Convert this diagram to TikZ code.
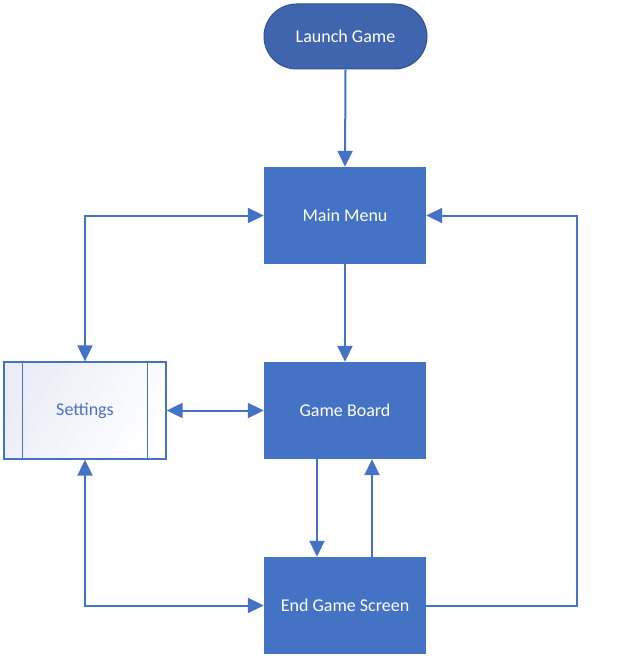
\documentclass[tikz,border=0pt]{standalone}
\usepackage{fontspec}
\setmainfont{Carlito}
\usetikzlibrary{arrows.meta,shapes.misc}
\definecolor{boxblue}{HTML}{4472C4}
\definecolor{darkblue}{HTML}{3F65AE}
\definecolor{edgeblue}{HTML}{2F528F}
\definecolor{lav}{HTML}{EAECF7}
\tikzset{
  procbox/.style={rectangle, fill=boxblue, minimum width=162pt, minimum height=97pt, inner sep=0pt, text=white, font=\fontsize{18}{21}\selectfont},
  startbox/.style={rounded rectangle, fill=darkblue, draw=edgeblue, line width=1pt, minimum width=163pt, minimum height=65pt, inner sep=0pt, text=white, font=\fontsize{18}{21}\selectfont},
  subbox/.style={rectangle, draw=boxblue, line width=1.3pt, left color=lav, right color=white, shading angle=60, minimum width=162pt, minimum height=97pt, inner sep=0pt, text=boxblue, font=\fontsize{18}{21}\selectfont},
  conn/.style={draw=boxblue, line width=2pt, -{Triangle[length=16pt,width=15pt]}},
  bothconn/.style={draw=boxblue, line width=2pt, {Triangle[length=16pt,width=15pt]}-{Triangle[length=16pt,width=15pt]}},
}
\begin{document}
\begin{tikzpicture}[x=1pt,y=-1pt]
\useasboundingbox (0,0) rectangle (626,658);
\node[startbox] (lg) at (345.5,36.5) {Launch Game};
\node[procbox] (mm) at (345,215.5) {Main Menu};
\node[procbox] (gb) at (345,410.5) {Game Board};
\node[procbox] (eg) at (345,605.5) {End Game Screen};
\node[subbox] (set) at (85,410.5) {Settings};
\draw[draw=boxblue, line width=1.3pt] ([xshift=19pt]set.north west) -- ([xshift=19pt]set.south west);
\draw[draw=boxblue, line width=1.3pt] ([xshift=-19pt]set.north east) -- ([xshift=-19pt]set.south east);
\coordinate (rc) at (577,605.5);
\draw[conn] (lg.south) -- (mm.north);
\draw[conn] (mm.south) -- (gb.north);
\draw[bothconn] (mm.west) -| (set.north);
\draw[bothconn] (set.east) -- (gb.west);
\draw[conn] ([xshift=-28pt]gb.south) -- ([xshift=-28pt]eg.north);
\draw[conn] ([xshift=27pt]eg.north) -- ([xshift=27pt]gb.south);
\draw[bothconn] (set.south) |- (eg.west);
\draw[conn] (eg.east) -- (rc) |- (mm.east);
\end{tikzpicture}
\end{document}
